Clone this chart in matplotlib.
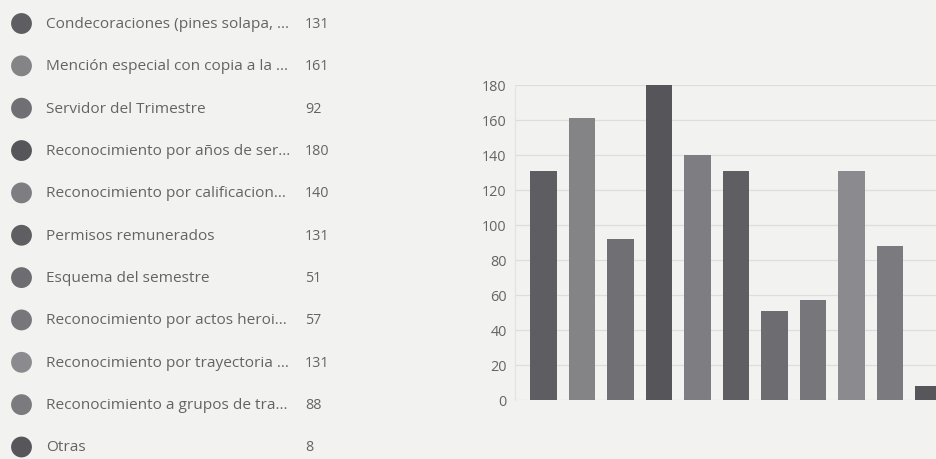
import matplotlib
matplotlib.use("Agg")
import matplotlib.pyplot as plt
import numpy as np

# Survey answers and their response counts
labels = [
    "Condecoraciones (pines solapa, \u2026",
    "Mención especial con copia a la \u2026",
    "Servidor del Trimestre",
    "Reconocimiento por años de ser\u2026",
    "Reconocimiento por calificacion\u2026",
    "Permisos remunerados",
    "Esquema del semestre",
    "Reconocimiento por actos heroi\u2026",
    "Reconocimiento por trayectoria \u2026",
    "Reconocimiento a grupos de tra\u2026",
    "Otras",
]
counts = [131, 161, 92, 180, 140, 131, 51, 57, 131, 88, 8]
colors = ["#5e5e62", "#848487", "#707074", "#55555a", "#7e7e82", "#5f5f63",
          "#6d6d71", "#77777b", "#8b8b8f", "#7b7b7f", "#57575b"]
y_ticks = [0, 20, 40, 60, 80, 100, 120, 140, 160, 180]

W, H = 937, 460
bg = "#f2f2f0"
text_col = "#646464"
font = "Open Sans"

fig = plt.figure(figsize=(W / 100, H / 100), dpi=100, facecolor=bg)

# Legend panel on the left, laid out in pixel units
lax = fig.add_axes([0, 0, 1, 1], facecolor="none")
lax.set_xlim(0, W)
lax.set_ylim(H, 0)
lax.axis("off")
row0, row_step = 24.5, 42.35
for i, (lab, val, col) in enumerate(zip(labels, counts, colors)):
    y = row0 + i * row_step
    lax.scatter([21.5], [y], s=225, color=col, edgecolors="none", zorder=3)
    lax.text(46, y, lab, fontsize=11.1, family=font, color=text_col,
             va="center", ha="left")
    lax.text(305, y, str(val), fontsize=10.3, family=font, color=text_col,
             va="center", ha="left")

# Bar chart on the right (runs past the right edge of the canvas)
ax = fig.add_axes([515 / W, 59 / H, 442 / W, 315 / H], facecolor="none")
x = np.arange(len(counts))
ax.bar(x, counts, width=0.7, color=colors, zorder=3)
ax.set_xlim(-0.74, len(counts) - 0.26)
ax.set_ylim(0, 180)
ax.set_yticks(y_ticks)
ax.set_yticklabels([str(t) for t in y_ticks], family=font, fontsize=10.4,
                   color=text_col)
ax.tick_params(axis="y", length=0, pad=6)
ax.set_xticks([])
ax.grid(axis="y", color="#dddddd", linewidth=0.9, zorder=0)
for side in ["top", "right", "bottom"]:
    ax.spines[side].set_visible(False)
ax.spines["left"].set_color("#e3e3e3")
ax.spines["left"].set_linewidth(0.9)

fig.savefig("out.png", dpi=100, facecolor=bg)
